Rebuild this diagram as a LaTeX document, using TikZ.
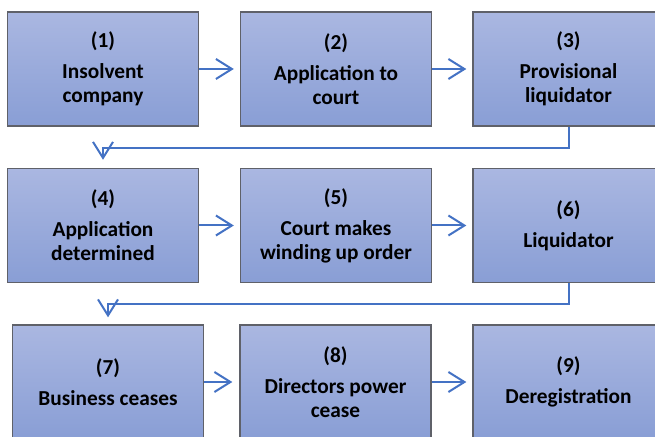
\documentclass[tikz,border=0pt]{standalone}
\usepackage{fontspec}
\setmainfont{Carlito}
\usepackage{tikz}
\usetikzlibrary{arrows.meta,positioning}

\begin{document}
\begin{tikzpicture}[x=1bp,y=-1bp,
  stage/.style={rectangle, draw=stageBorder, line width=1.4bp,
    top color=stageTop, bottom color=stageBottom,
    minimum width=191bp, minimum height=114bp, inner sep=0pt,
    align=center, font=\fontsize{21.4}{24}\selectfont\bfseries},
  flow/.style={draw=flowColor, line width=2bp,
    -{Straight Barb[length=16bp,width=20bp,line width=2bp]}}]
\definecolor{stageTop}{RGB}{170,183,225}
\definecolor{stageBottom}{RGB}{137,158,213}
\definecolor{stageBorder}{RGB}{95,97,105}
\definecolor{flowColor}{RGB}{68,114,196}
\clip (0,0) rectangle (655,437);
% row 1
\node[stage] (insolvent) at (103,69) {(1)\\[7bp]Insolvent\\company};
\node[stage] (applic) at (336,69) {(2)\\[7bp]Application to\\court};
\node[stage] (provliq) at (568.5,69) {(3)\\[7bp]Provisional\\liquidator};
% row 2
\node[stage] (determined) at (103,225.5) {(4)\\[7bp]Application\\determined};
\node[stage] (windup) at (336,225.5) {(5)\\[7bp]Court makes\\winding up order};
\node[stage] (liquidator) at (568.5,225.5) {(6)\\[7bp]Liquidator};
% row 3
\node[stage] (ceases) at (108,382) {(7)\\[7bp]Business ceases};
\node[stage] (directors) at (335.5,382) {(8)\\[7bp]Directors power\\cease};
\node[stage] (dereg) at (568.5,382) {(9)\\[7bp]Deregistration};
% connectors
\draw[flow,shorten >=6bp] (insolvent) -- (applic);
\draw[flow,shorten >=6bp] (applic) -- (provliq);
\draw[flow,shorten >=8bp] (provliq.south) -- ++(0,21) -| (determined.north);
\draw[flow,shorten >=6bp] (determined) -- (windup);
\draw[flow,shorten >=6bp] (windup) -- (liquidator);
\draw[flow,shorten >=7bp] (liquidator.south) -- ++(0,21) -| (ceases.north);
\draw[flow,shorten >=7bp] (ceases) -- (directors);
\draw[flow,shorten >=6bp] (directors) -- (dereg);
\end{tikzpicture}
\end{document}
